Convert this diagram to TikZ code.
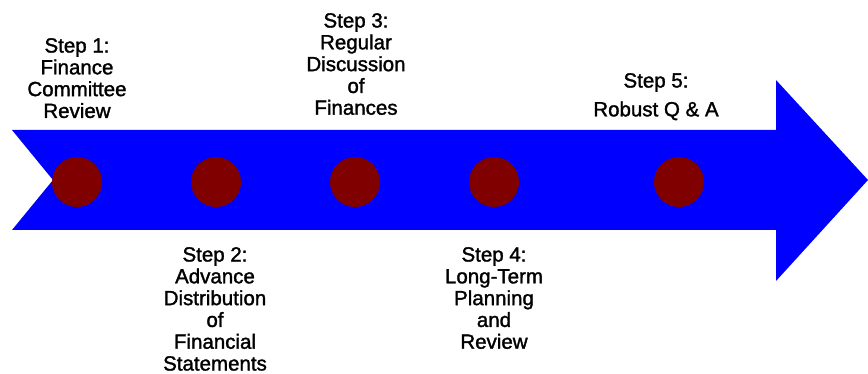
\documentclass[tikz,border=0pt]{standalone}
\usepackage{fontspec}
\setmainfont{Liberation Sans}[FakeBold=1.5]
\begin{document}
\begin{tikzpicture}[x=1pt,y=-1pt,
  lbl/.style={align=center,inner sep=0pt,anchor=north,
    font=\fontsize{20.5}{21.8}\selectfont},
  dot/.style={circle,fill=dotred,minimum size=50pt,inner sep=0pt}]
\definecolor{dotred}{RGB}{128,0,0}
\definecolor{arrowblue}{RGB}{0,0,255}
\useasboundingbox (0,0) rectangle (868,374);
\fill[arrowblue] (12,130) -- (776,130) -- (776,80) -- (868,180) -- (776,281)
  -- (776,230) -- (12,230) -- (53,180) -- cycle;
\foreach \n/\x in {a/77,b/216,c/355,d/494,e/679}
  \node[dot] (\n) at (\x,182) {};
\node[lbl] (s1) at (77,38) {Step 1:\\Finance\\Committee\\Review};
\node[lbl] (s3) at (356,13) {Step 3:\\Regular\\Discussion\\of\\Finances};
\node[lbl] (s5) at (656,73) {Step 5:\\[7pt]Robust Q \& A};
\node[lbl] (s2) at (215,247) {Step 2:\\Advance\\Distribution\\of\\Financial\\Statements};
\node[lbl] (s4) at (494,247) {Step 4:\\Long-Term\\Planning\\and\\Review};
\end{tikzpicture}
\end{document}
